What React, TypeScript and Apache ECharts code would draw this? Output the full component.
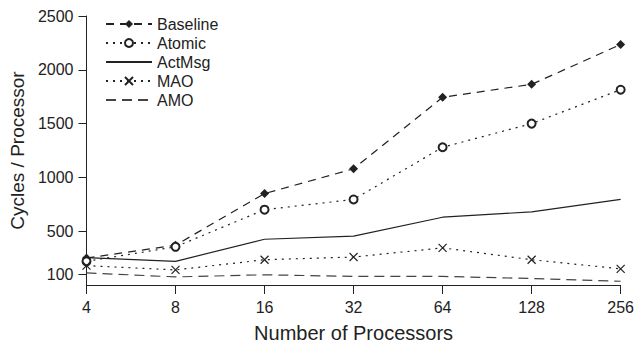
import React, { useEffect, useRef } from "react";
import * as echarts from "echarts";

const categories = ["4", "8", "16", "32", "64", "128", "256"];
const baseline = [250, 370, 850, 1080, 1745, 1865, 2235];
const atomic = [220, 355, 700, 795, 1280, 1500, 1815];
const actMsg = [255, 220, 425, 455, 630, 680, 795];
const mao = [180, 140, 235, 260, 345, 235, 150];
const amo = [113, 75, 95, 80, 80, 60, 35];
const yTicks = [100, 500, 1000, 1500, 2000, 2500];

const FONT = "'Liberation Sans', Arial, Helvetica, sans-serif";
const INK = "#222";
const X_SYMBOL = "path://M0,0L10,10M10,0L0,10";

export default function App() {
  const ref = useRef<HTMLDivElement>(null);
  useEffect(() => {
    if (!ref.current) return;
    const chart = echarts.init(ref.current, null, { renderer: "svg" });
    const lineBase = { showSymbol: true, animation: false };
    const hiddenSym = { color: "transparent", borderWidth: 0, opacity: 0 };
    chart.setOption({
      animation: false,
      textStyle: { fontFamily: FONT, color: INK },
      grid: { left: 85, right: 8, top: 16, bottom: 60, containLabel: false },
      legend: {
        orient: "vertical",
        left: 100,
        top: 11,
        itemWidth: 46,
        itemHeight: 10,
        itemGap: 3,
        textStyle: { fontFamily: FONT, fontSize: 16, color: INK },
        data: [
          { name: "Baseline" },
          { name: "Atomic" },
          { name: "ActMsg", itemStyle: hiddenSym },
          { name: "MAO" },
          { name: "AMO", itemStyle: hiddenSym },
        ],
      },
      xAxis: {
        type: "category",
        data: categories,
        boundaryGap: false,
        name: "Number of Processors",
        nameLocation: "middle",
        nameGap: 38,
        nameTextStyle: { fontFamily: FONT, fontSize: 20, color: INK },
        axisLine: { lineStyle: { color: INK, width: 1 } },
        axisTick: { show: true, length: 9, lineStyle: { color: INK } },
        axisLabel: { fontFamily: FONT, fontSize: 16, color: INK, margin: 14 },
        splitLine: { show: false },
      },
      yAxis: {
        type: "value",
        min: 0,
        max: 2500,
        name: "Cycles / Processor",
        nameLocation: "middle",
        nameGap: 56,
        nameTextStyle: { fontFamily: FONT, fontSize: 19, color: INK },
        axisLine: { show: true, lineStyle: { color: INK, width: 1 } },
        axisTick: { show: true, length: 8, customValues: yTicks, lineStyle: { color: INK } },
        axisLabel: {
          fontFamily: FONT,
          fontSize: 16,
          color: INK,
          margin: 13,
          customValues: yTicks,
          formatter: (v: number) => String(v),
        },
        splitLine: { show: false },
      },
      series: [
        {
          ...lineBase,
          name: "Baseline",
          type: "line",
          data: baseline,
          symbol: "diamond",
          symbolSize: 9,
          itemStyle: { color: INK },
          lineStyle: { color: INK, width: 1.2, type: [8, 6] },
        },
        {
          ...lineBase,
          name: "Atomic",
          type: "line",
          data: atomic,
          symbol: "emptyCircle",
          symbolSize: 8,
          itemStyle: { color: INK, borderColor: INK, borderWidth: 1.1 },
          lineStyle: { color: INK, width: 1.2, type: [2, 5] },
        },
        {
          ...lineBase,
          name: "ActMsg",
          type: "line",
          data: actMsg,
          symbol: "none",
          itemStyle: { color: INK },
          lineStyle: { color: INK, width: 1.2, type: "solid" },
        },
        {
          ...lineBase,
          name: "MAO",
          type: "line",
          data: mao,
          symbol: X_SYMBOL,
          symbolSize: 8,
          itemStyle: { color: "none", borderColor: INK, borderWidth: 1.2 },
          lineStyle: { color: INK, width: 1.2, type: [2, 5] },
        },
        {
          ...lineBase,
          name: "AMO",
          type: "line",
          data: amo,
          symbol: "none",
          itemStyle: { color: "#444" },
          lineStyle: { color: "#444", width: 1.2, type: [10, 6] },
        },
      ],
    });
    return () => chart.dispose();
  }, []);
  return (
    <div
      ref={ref}
      style={{ position: "absolute", left: 0, top: 0, width: 637, height: 348 }}
    />
  );
}
